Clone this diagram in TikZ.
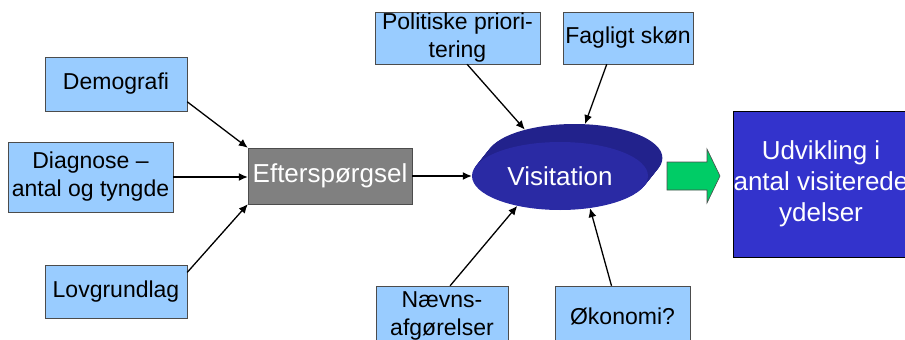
\documentclass[tikz,border=0pt]{standalone}
\usepackage{fontspec}
\setmainfont{Liberation Sans}
\usetikzlibrary{arrows.meta,shapes.geometric}

\definecolor{boksblaa}{RGB}{153,204,255}
\definecolor{boksgraa}{RGB}{128,128,128}
\definecolor{visfront}{RGB}{42,42,164}
\definecolor{visbag}{RGB}{34,34,140}
\definecolor{udvblaa}{RGB}{51,51,204}
\definecolor{pilgroen}{RGB}{0,204,102}

\tikzset{
  faktor/.style={draw=black!70, fill=boksblaa, inner sep=0pt, align=center,
    font=\fontsize{23}{28}\selectfont},
  pil/.style={-{Latex[length=9pt,width=8pt]}, line width=1.3pt},
}

\begin{document}
\begin{tikzpicture}[x=1pt, y=-1pt]
    % --- ramme ---
    \clip (0,0) rectangle (905,340);

    % --- faktorer til venstre ---
    \node[faktor, minimum width=142, minimum height=54] (demo) at (116,84) {Demografi};
    \node[faktor, minimum width=165, minimum height=70] (diag) at (90.5,177) {Diagnose --\\antal og tyngde};
    \node[faktor, minimum width=142, minimum height=53] (lov) at (116,291.5) {Lovgrundlag};

    % --- efterspørgsel ---
    \node[draw=black!70, fill=boksgraa, text=white, inner sep=0pt,
      minimum width=164, minimum height=56, font=\fontsize{26}{30}\selectfont]
      (eft) at (330,176) {Efterspørgsel};

    % --- visitation (skive med dybde) ---
    \foreach \d in {1,...,18}
      \fill[visbag, shift={(\d*0.8,-\d)}] (560,176) ellipse [x radius=88pt, y radius=34pt];
    \node[ellipse, inner sep=0pt, minimum width=176, minimum height=68] (visbag) at (574,158) {};
    \node[ellipse, fill=visfront, text=white, minimum width=176, minimum height=68,
      font=\fontsize{26}{30}\selectfont] (vis) at (560,176) {Visitation};

    % --- faktorer over og under ---
    \node[faktor, minimum width=165, minimum height=52] (pol) at (457.5,38) {Politiske priori-\\tering};
    \node[faktor, minimum width=130, minimum height=52] (fag) at (628,38) {Fagligt skøn};
    \node[faktor, minimum width=132, minimum height=60] (naevn) at (442,316) {Nævns-\\afgørelser};
    \node[faktor, minimum width=135, minimum height=60] (oko) at (622.5,316) {Økonomi?};

    % --- resultat ---
    \node[draw=black, fill=udvblaa, text=white, inner sep=0pt, align=center,
      minimum width=174, minimum height=146, font=\fontsize{26}{31}\selectfont]
      (udv) at (821,184) {Udvikling i\\antal visiterede\\ydelser};

    % --- grøn blokpil ---
    \draw[draw=black!70, fill=pilgroen, line width=0.6pt]
      (667,162) -- (707,162) -- (707,149) -- (720,176) -- (707,203) -- (707,190) -- (667,190) -- cycle;

    % --- pile ---
    \draw[pil] (demo.-14) -- (eft.north west);
    \draw[pil] (diag.east) -- (diag.east -| eft.west);
    \draw[pil] (lov.15) -- (eft.south west);
    \draw[pil] (eft.east) -- (vis.west);
    \draw[pil] (pol.-70) -- (visbag.150);
    \draw[pil] (fag.231) -- (visbag.72);
    \draw[pil] (naevn.75) -- (vis.215);
    \draw[pil] (oko.110) -- (vis.313);

\end{tikzpicture}
\end{document}
